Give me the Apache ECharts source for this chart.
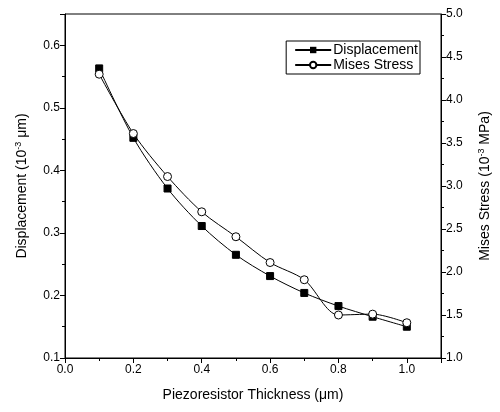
<!DOCTYPE html>
<html>
<head>
<meta charset="utf-8">
<script src="https://cdn.jsdelivr.net/npm/echarts@6/dist/echarts.min.js"></script>
<style>
  html, body { margin: 0; padding: 0; background: #fff; }
  #chart { width: 500px; height: 412px; }
</style>
</head>
<body>
<div id="chart"></div>
<script>
var thickness = [0.1, 0.2, 0.3, 0.4, 0.5, 0.6, 0.7, 0.8, 0.9, 1.0];
var displacement = [0.563, 0.452, 0.371, 0.311, 0.265, 0.231, 0.204, 0.183, 0.166, 0.150];
var misesStress = [4.30, 3.61, 3.11, 2.70, 2.41, 2.11, 1.91, 1.50, 1.51, 1.41];

function pairs(xs, ys) {
  var out = [];
  for (var i = 0; i < xs.length; i++) out.push([xs[i], ys[i]]);
  return out;
}

var font = 'Liberation Sans, Arial, sans-serif';
var fmt1 = function (v) { return v.toFixed(1); };
var supStyle = { sup: { fontSize: 9, verticalAlign: 'top', padding: [0, 0, 7, 0] } };

var myChart = echarts.init(document.getElementById('chart'));
var option = {
  animation: false,
  textStyle: { fontFamily: font, color: '#000' },
  grid: {
    left: 65, right: 58, top: 14, bottom: 54,
    show: true, borderColor: '#000', borderWidth: 1, backgroundColor: 'transparent'
  },
  legend: {
    right: 80, top: 41,
    orient: 'vertical',
    itemWidth: 36, itemHeight: 8, itemGap: 1,
    borderColor: '#000', borderWidth: 1, borderRadius: 0,
    padding: [2, 2, 2, 8],
    textStyle: { fontFamily: font, fontSize: 14, color: '#000', padding: [0, 0, 0, -3] },
    data: ['Displacement', 'Mises Stress']
  },
  xAxis: {
    type: 'value', min: 0, max: 1.1, interval: 0.2,
    name: 'Piezoresistor Thickness (\u03bcm)',
    nameLocation: 'middle', nameGap: 30,
    nameTextStyle: { fontSize: 14, color: '#000' },
    axisLine: { lineStyle: { color: '#000', width: 1 } },
    axisTick: { length: 5, lineStyle: { color: '#000' } },
    minorTick: { show: true, splitNumber: 2, length: 3, lineStyle: { color: '#000' } },
    axisLabel: { formatter: fmt1, fontSize: 12, color: '#000', margin: 6, showMaxLabel: false },
    splitLine: { show: false }
  },
  yAxis: [{
    type: 'value', min: 0.1, max: 0.65, interval: 0.1,
    name: 'Displacement (10{sup|-3} \u03bcm)',
    nameLocation: 'middle', nameGap: 35, nameRotate: 90,
    nameTextStyle: { fontSize: 14, color: '#000', rich: supStyle },
    axisLine: { show: true, lineStyle: { color: '#000', width: 1 } },
    axisTick: { show: true, length: 5, lineStyle: { color: '#000' } },
    minorTick: { show: true, splitNumber: 2, length: 3, lineStyle: { color: '#000' } },
    axisLabel: { formatter: fmt1, fontSize: 12, color: '#000', margin: 5, showMaxLabel: false },
    splitLine: { show: false }
  }, {
    type: 'value', min: 1, max: 5, interval: 0.5, position: 'right',
    name: 'Mises Stress (10{sup|-3} MPa)',
    nameLocation: 'middle', nameGap: 36, nameRotate: 90,
    nameTextStyle: { fontSize: 14, color: '#000', rich: supStyle },
    axisLine: { show: true, lineStyle: { color: '#000', width: 1 } },
    axisTick: { show: true, length: 5, lineStyle: { color: '#000' } },
    minorTick: { show: true, splitNumber: 2, length: 3, lineStyle: { color: '#000' } },
    axisLabel: { formatter: fmt1, fontSize: 12, color: '#000', margin: 5 },
    splitLine: { show: false }
  }],
  series: [{
    name: 'Displacement',
    type: 'line', yAxisIndex: 0, smooth: 0.3,
    data: pairs(thickness, displacement),
    symbol: 'rect', symbolSize: 7,
    lineStyle: { color: '#000', width: 1 },
    itemStyle: { color: '#000', borderColor: '#000' }
  }, {
    name: 'Mises Stress',
    type: 'line', yAxisIndex: 1, smooth: 0.3,
    data: pairs(thickness, misesStress),
    symbol: 'circle', symbolSize: 8,
    lineStyle: { color: '#000', width: 1 },
    itemStyle: { color: '#fff', borderColor: '#000', borderWidth: 1 }
  }]
};
myChart.setOption(option);
</script>
</body>
</html>
